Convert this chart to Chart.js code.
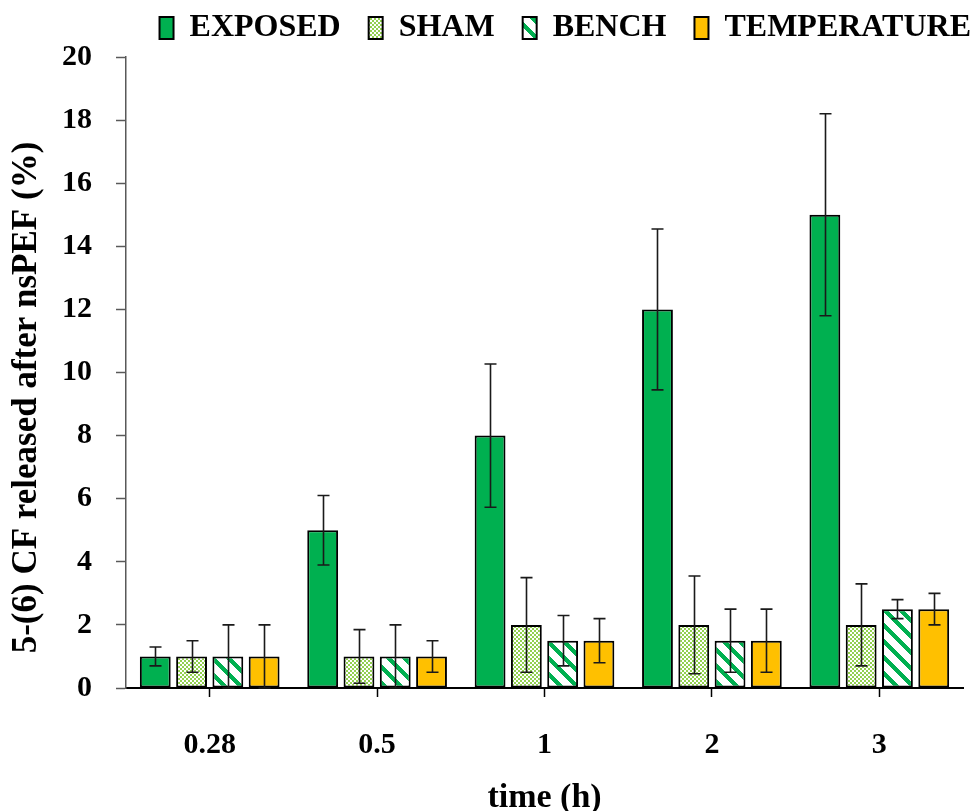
<!DOCTYPE html>
<html>
<head>
<meta charset="utf-8">
<script src="https://cdn.jsdelivr.net/npm/chart.js@4"></script>
<style>
  html, body { margin: 0; padding: 0; background: #fff; }
  #wrap { width: 976px; height: 811px; }
</style>
</head>
<body>
<div id="wrap"><canvas id="c" width="976" height="811"></canvas></div>
<script>
// Exposure times (h)
const categories = ['0.28', '0.5', '1', '2', '3'];

// Mean 5-(6) CF release (%) and error (±) per condition
const exposed = [1, 5, 8, 12, 15];
const exposedErr = [0.3, 1.1, 2.27, 2.55, 3.2];

const sham = [1, 1, 2, 2, 2];
const shamErr = [0.5, 0.85, 1.5, 1.55, 1.3];

const bench = [1, 1, 1.5, 1.5, 2.5];
const benchErr = [1, 1, 0.8, 1, 0.3];

const temperature = [1, 1, 1.5, 1.5, 2.5];
const temperatureErr = [1, 0.5, 0.7, 1, 0.5];

const yTicks = [0, 2, 4, 6, 8, 10, 12, 14, 16, 18, 20];

const yTitle = '5-(6) CF released after nsPEF (%)';
const xTitle = 'time (h)';

const GREEN = '#00B050';
const LIGHT_GREEN = '#92D050';
const GOLD = '#FFC000';
const FONT = '"Liberation Serif", "Times New Roman", serif';

// Small checkerboard fill
function checkerPattern() {
  const c = document.createElement('canvas');
  c.width = 4; c.height = 4;
  const g = c.getContext('2d');
  g.fillStyle = '#ffffff';
  g.fillRect(0, 0, 4, 4);
  g.fillStyle = LIGHT_GREEN;
  g.fillRect(0, 0, 2, 2);
  g.fillRect(2, 2, 2, 2);
  return g.createPattern(c, 'repeat');
}

// Diagonal stripes running from upper-left to lower-right
function stripePattern() {
  const n = 16;
  const c = document.createElement('canvas');
  c.width = n; c.height = n;
  const g = c.getContext('2d');
  g.fillStyle = '#ffffff';
  g.fillRect(0, 0, n, n);
  g.fillStyle = GREEN;
  for (let y = 0; y < n; y++) {
    for (let x = 0; x < n; x++) {
      if ((((x - y) % n) + n) % n < 6) g.fillRect(x, y, 1, 1);
    }
  }
  return g.createPattern(c, 'repeat');
}

// Vertical error bars with caps, drawn over the bars
const errorBars = {
  id: 'errorBars',
  afterDatasetsDraw(chart) {
    const ctx = chart.ctx;
    const yScale = chart.scales.y;
    ctx.save();
    ctx.strokeStyle = '#1a1a1a';
    ctx.lineWidth = 1.6;
    const cap = 6;
    chart.data.datasets.forEach((ds, i) => {
      const meta = chart.getDatasetMeta(i);
      meta.data.forEach((bar, j) => {
        const v = ds.data[j], e = ds.errors[j];
        const x = Math.round(bar.x) + 0.5;
        const yTop = yScale.getPixelForValue(v + e);
        const yBot = yScale.getPixelForValue(Math.max(0, v - e));
        ctx.beginPath();
        ctx.moveTo(x, yTop); ctx.lineTo(x, yBot);
        ctx.moveTo(x - cap, yTop); ctx.lineTo(x + cap, yTop);
        ctx.moveTo(x - cap, yBot); ctx.lineTo(x + cap, yBot);
        ctx.stroke();
      });
    });
    ctx.restore();
  }
};

// Legend band height and placement
const legendPlacement = {
  id: 'legendPlacement',
  beforeLayout(chart) {
    const lg = chart.legend;
    if (lg && !lg._bandFit) {
      const fit = lg.fit;
      lg.fit = function () { fit.call(this); this.height = 57; };
      lg._bandFit = true;
    }
  },
  afterLayout(chart) {
    const lg = chart.legend;
    if (lg) {
      lg.top -= 16;
      lg.left += 36;
      lg.right += 36;
    }
  }
};

// Rotated y-axis title, sitting slightly below the middle of the axis
const yAxisTitle = {
  id: 'yAxisTitle',
  afterDraw(chart) {
    const ctx = chart.ctx;
    const a = chart.chartArea;
    ctx.save();
    ctx.translate(27, (a.top + a.bottom) / 2 + 25);
    ctx.rotate(-Math.PI / 2);
    ctx.font = 'bold 35px ' + FONT;
    ctx.fillStyle = '#000';
    ctx.textAlign = 'center';
    ctx.textBaseline = 'middle';
    ctx.fillText(yTitle, 0, 0);
    ctx.restore();
  }
};

const common = { borderColor: '#000000', borderWidth: 2, borderSkipped: false,
                 categoryPercentage: 0.867, barPercentage: 0.85 };

new Chart(document.getElementById('c'), {
  type: 'bar',
  data: {
    labels: categories,
    datasets: [
      Object.assign({ label: 'EXPOSED', data: exposed, errors: exposedErr, backgroundColor: GREEN }, common),
      Object.assign({ label: 'SHAM', data: sham, errors: shamErr, backgroundColor: checkerPattern() }, common),
      Object.assign({ label: 'BENCH', data: bench, errors: benchErr, backgroundColor: stripePattern() }, common),
      Object.assign({ label: 'TEMPERATURE', data: temperature, errors: temperatureErr, backgroundColor: GOLD }, common)
    ]
  },
  options: {
    responsive: false,
    animation: false,
    devicePixelRatio: 1,
    layout: { padding: { left: 0, right: 13, top: 0, bottom: 0 } },
    plugins: {
      tooltip: { enabled: false },
      legend: {
        position: 'top',
        align: 'end',
        labels: {
          boxWidth: 14,
          boxHeight: 22,
          padding: 28,
          color: '#000',
          font: { family: FONT, size: 32, weight: 'bold', lineHeight: 1 }
        }
      }
    },
    scales: {
      x: {
        afterFit(scale) { scale.height = 123; },
        grid: { display: true, offset: false, drawOnChartArea: false, drawTicks: true,
                tickLength: 9, tickColor: '#000', tickWidth: 1.5 },
        border: { color: '#000', width: 2 },
        ticks: { color: '#000', padding: 30, font: { family: FONT, size: 30, weight: 'bold' } },
        title: { display: true, text: xTitle, color: '#000', padding: { top: 0, bottom: -4 },
                 font: { family: FONT, size: 34, weight: 'bold', lineHeight: 1 } }
      },
      y: {
        min: 0, max: 20,
        afterFit(scale) { scale.width = 126; },
        afterBuildTicks(scale) { scale.ticks = yTicks.map(v => ({ value: v })); },
        grid: { drawOnChartArea: false, drawTicks: true, tickLength: 10, tickColor: '#595959', tickWidth: 1.5 },
        border: { color: '#595959', width: 1.5 },
        ticks: { color: '#000', padding: 24, font: { family: FONT, size: 30, weight: 'bold' } },
        title: { display: false }
      }
    }
  },
  plugins: [errorBars, legendPlacement, yAxisTitle]
});
</script>
</body>
</html>
